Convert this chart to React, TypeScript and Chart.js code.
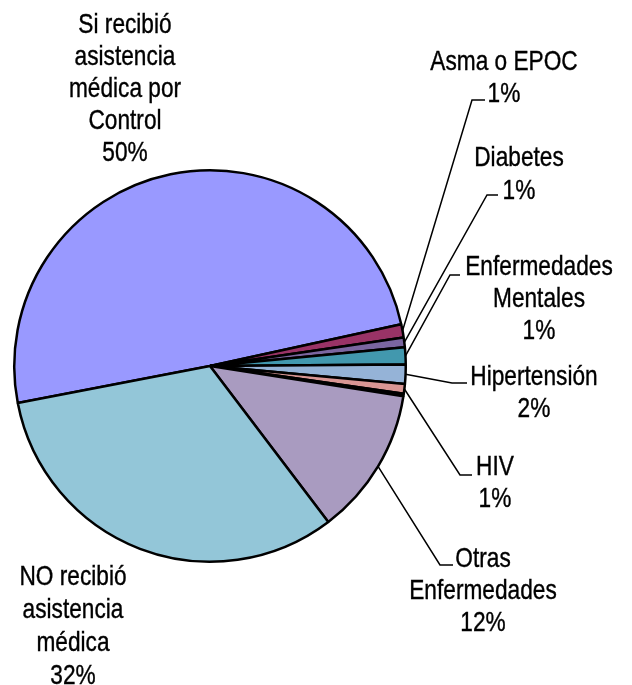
import React, { useEffect, useRef } from 'react';
import { Chart, registerables } from 'chart.js';

Chart.register(...registerables);

// ---- Data ----
const categories = [
  'Si recibió asistencia médica por Control',
  'Asma o EPOC',
  'Diabetes',
  'Enfermedades Mentales',
  'Hipertensión',
  'HIV',
  '',
  'Otras Enfermedades',
  'NO recibió asistencia médica',
];
const values = [49.6, 1.1, 0.8, 1.4, 1.6, 0.8, 0.2, 12.2, 32.3];
const labelLines = [
  ['Si recibió', 'asistencia', 'médica por', 'Control'],
  ['Asma o EPOC'],
  ['Diabetes'],
  ['Enfermedades', 'Mentales'],
  ['Hipertensión'],
  ['HIV'],
  [],
  ['Otras', 'Enfermedades'],
  ['NO recibió', 'asistencia', 'médica'],
];
const colors = [
  '#9999FF',
  '#993366',
  '#7B66A0',
  '#4298AE',
  '#95B3D7',
  '#D99694',
  '#C3D69B',
  '#A99BC0',
  '#93C6D8',
];

// ---- Label layout (style only) ----
type Layout = { x: number; y: number; lh: number; elbow?: [number, number]; end?: [number, number] } | null;
const layouts: Layout[] = [
  { x: 125, y: 23, lh: 32 },
  { x: 504, y: 60, lh: 32, elbow: [472, 100], end: [485, 100] },
  { x: 519, y: 156, lh: 33, elbow: [487, 195], end: [498, 195] },
  { x: 539, y: 265, lh: 32, elbow: [450, 275], end: [460, 275] },
  { x: 534, y: 375, lh: 32, elbow: [452, 383], end: [467, 383] },
  { x: 495, y: 465, lh: 32, elbow: [460, 475], end: [472, 475] },
  null,
  { x: 483, y: 557, lh: 32, elbow: [440, 565], end: [453, 565] },
  { x: 73, y: 575, lh: 33 },
];

const FONT_SIZE = 28;
const X_SCALE = 0.81;

const labelPlugin = {
  id: 'outerLabels',
  afterDraw(chart: any) {
    const ctx = chart.ctx as CanvasRenderingContext2D;
    const meta = chart.getDatasetMeta(0);
    const total = values.reduce((a, b) => a + b, 0);
    ctx.save();
    meta.data.forEach((arc: any, i: number) => {
      const lay = layouts[i];
      if (!lay) return;
      const pct = Math.round((values[i] / total) * 100) + '%';
      const lines = [...labelLines[i], pct];
      if (lay.elbow && lay.end) {
        const p = arc.getProps(['x', 'y', 'startAngle', 'endAngle', 'outerRadius'], true);
        const mid = (p.startAngle + p.endAngle) / 2;
        const sx = p.x + Math.cos(mid) * p.outerRadius;
        const sy = p.y + Math.sin(mid) * p.outerRadius;
        ctx.beginPath();
        ctx.strokeStyle = '#000';
        ctx.lineWidth = 1.5;
        ctx.moveTo(sx, sy);
        ctx.lineTo(lay.elbow[0], lay.elbow[1]);
        ctx.lineTo(lay.end[0], lay.end[1]);
        ctx.stroke();
      }
      ctx.fillStyle = '#000';
      ctx.strokeStyle = '#000';
      ctx.lineWidth = 0.4;
      ctx.font = `${FONT_SIZE}px "Liberation Sans", Arial, sans-serif`;
      ctx.textAlign = 'center';
      ctx.textBaseline = 'alphabetic';
      const capHalf = (FONT_SIZE * 0.716) / 2;
      lines.forEach((t, k) => {
        ctx.save();
        ctx.translate(lay.x, lay.y + k * lay.lh + capHalf);
        ctx.scale(X_SCALE, 1);
        ctx.fillText(t, 0, 0);
        ctx.strokeText(t, 0, 0);
        ctx.restore();
      });
    });
    ctx.restore();
  },
};

export default function App() {
  const ref = useRef<HTMLCanvasElement | null>(null);
  useEffect(() => {
    if (!ref.current) return;
    const chart = new Chart(ref.current, {
      type: 'pie',
      data: {
        labels: categories,
        datasets: [
          {
            data: values,
            backgroundColor: colors,
            borderColor: '#000000',
            borderWidth: 2.5,
          },
        ],
      },
      options: {
        responsive: false,
        animation: false,
        rotation: -100.9,
        layout: { padding: { left: 13, right: 225, top: 169, bottom: 122 } },
        plugins: {
          legend: { display: false },
          tooltip: { enabled: false },
        },
      },
      plugins: [labelPlugin],
    });
    return () => chart.destroy();
  }, []);
  return (
    <div style={{ position: 'absolute', left: 0, top: 0, width: 632, height: 685, background: '#fff' }}>
      <canvas ref={ref} width={632} height={685} style={{ display: 'block' }} />
    </div>
  );
}
